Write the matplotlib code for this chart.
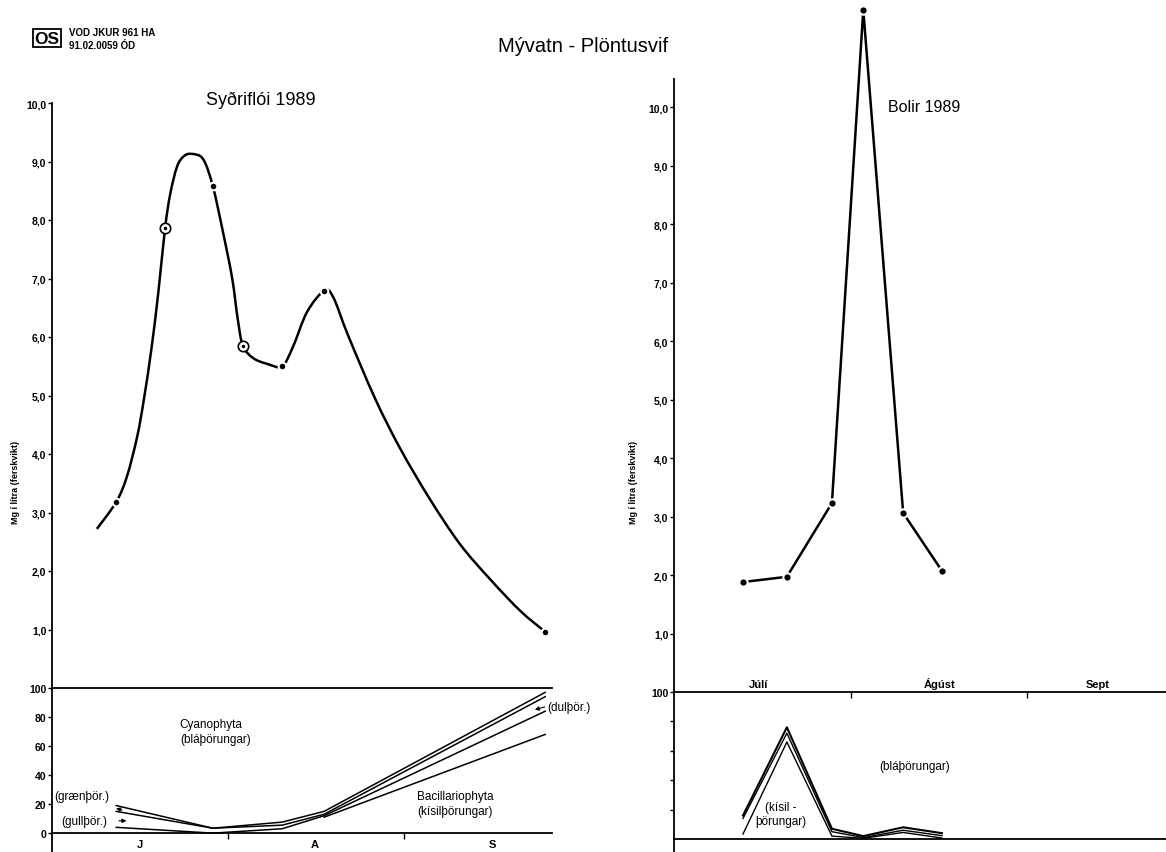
import numpy as np
import matplotlib
matplotlib.use("Agg")
import matplotlib.pyplot as plt
from matplotlib.path import Path
from matplotlib.patches import PathPatch

plt.rcParams['font.family'] = ['Liberation Sans', 'DejaVu Sans']

# ---------------- data (days since 1 July 1989) ----------------
# Syðriflói: traced smooth curve
syd_curve_days = [7.9, 11.3, 13.2, 15.0, 16.2, 17.5, 18.7, 19.9, 20.8, 22.0, 23.2, 24.6, 26.6,
                  28.3, 30.1, 31.7, 32.7, 33.6, 35.4, 37.9, 40.5, 42.4, 44.9, 47.9,
                  49.5, 52.1, 56.9, 61.3, 66.5, 71.8, 77.1, 82.4, 86.8]
syd_curve_vals = [2.72, 3.18, 3.62, 4.30, 4.95, 5.80, 6.75, 7.86, 8.44, 8.91, 9.09, 9.13, 9.04,
                  8.58, 7.79, 7.01, 6.30, 5.85, 5.64, 5.54, 5.50, 5.83, 6.43, 6.79,
                  6.68, 6.03, 4.94, 4.09, 3.23, 2.46, 1.86, 1.32, 0.96]
syd_filled_days = [11.3, 28.3, 40.5, 47.9, 86.8]
syd_filled_vals = [3.18, 8.58, 5.50, 6.79, 0.96]
syd_open_days = [19.9, 33.6]
syd_open_vals = [7.86, 5.85]

# Syðriflói composition (%), boundaries of stacked groups
syd_comp_days = [11.3, 28.3, 40.5, 47.9, 86.8]
syd_line1 = [19, 3.4, 7.6, 15, 97]
syd_line2 = [15, 3.4, 5.5, 13, 94]
syd_line3 = [4, 0, 3, 12, 84]
syd_line4 = [np.nan, np.nan, np.nan, 11, 68]

# Bolir
bol_days = [12.1, 19.8, 27.7, 33.2, 40.2, 47.0]
bol_vals = [1.88, 1.97, 3.23, 11.66, 3.06, 2.07]
bol_top = [16, 76, 7, 2, 8, 4]
bol_mid = [14, 72, 5, 1, 6, 2.3]
bol_bot = [3.4, 66, 2, 0.5, 4.5, 0.7]

left_month_labels = ['J', 'A', 'S']
left_month_pos = [15.5, 46.3, 77.6]
right_month_labels = ['Júlí', 'Ágúst', 'Sept']
right_month_pos = [14.9, 46.5, 74.4]
month_bounds = [31, 62]
upper_ticks = [1, 2, 3, 4, 5, 6, 7, 8, 9, 10]
upper_ticklabels = ['1,0', '2,0', '3,0', '4,0', '5,0', '6,0', '7,0', '8,0', '9,0', '10,0']
pct_ticks = [0, 20, 40, 60, 80, 100]

# ---------------- layout ----------------
W, H = 1166, 853
fig = plt.figure(figsize=(W / 100, H / 100), dpi=100)


def ax_px(left, top, right, bottom):
    return fig.add_axes([left / W, 1 - bottom / H, (right - left) / W, (bottom - top) / H])


def fx(x):
    return x / W


def fy(y):
    return 1 - y / H


def smooth_path(xs, ys):
    """Catmull-Rom curve through the traced points, drawn as cubic Bezier segments."""
    P = np.column_stack([xs, ys]).astype(float)
    P_ext = np.vstack([P[0], P, P[-1]])
    verts = [P[0]]
    codes = [Path.MOVETO]
    for i in range(1, len(P_ext) - 2):
        p0, p1, p2, p3 = P_ext[i - 1], P_ext[i], P_ext[i + 1], P_ext[i + 2]
        c1 = p1 + (p2 - p0) / 6.0
        c2 = p2 - (p3 - p1) / 6.0
        verts += [c1, c2, p2]
        codes += [Path.CURVE4] * 3
    return Path(verts, codes)


LW = 1.3
tickfont = dict(fontsize=7.5, fontweight='bold')
monthfont = dict(fontsize=8, fontweight='bold')
txt = 8.5


def clean(ax):
    for s in ax.spines.values():
        s.set_visible(False)
    ax.set_facecolor('none')


# ---- left upper ----
axL = ax_px(52, 104, 552, 689)
clean(axL)
axL.spines['left'].set_visible(True)
axL.spines['left'].set_linewidth(LW)
axL.set_xlim(0, 88)
axL.set_ylim(0, 10)
axL.set_xticks([])
axL.set_yticks(upper_ticks)
axL.set_yticklabels(upper_ticklabels, **tickfont)
axL.tick_params(axis='y', length=3, width=1, pad=1)
axL.add_patch(PathPatch(smooth_path(syd_curve_days, syd_curve_vals), fc='none',
                        ec='black', lw=1.8, zorder=2, clip_on=False))
axL.plot(syd_filled_days, syd_filled_vals, 'o', color='black', ms=5.5,
         mec='white', mew=1.5, clip_on=False, zorder=3)
axL.plot(syd_open_days, syd_open_vals, 'o', mfc='white', mec='black', ms=7.5,
         mew=1.2, clip_on=False, zorder=3)
axL.plot(syd_open_days, syd_open_vals, 'o', color='black', ms=1.5, clip_on=False, zorder=4)

# ---- left lower ----
axLL = ax_px(52, 689, 552, 853)
clean(axLL)
for s in ['left', 'top', 'bottom']:
    axLL.spines[s].set_visible(True)
    axLL.spines[s].set_linewidth(LW)
axLL.spines['bottom'].set_position(('data', 0))
axLL.set_xlim(0, 88)
axLL.set_ylim(-13, 100)
axLL.set_yticks(pct_ticks)
axLL.set_yticklabels([str(t) for t in pct_ticks], **tickfont)
axLL.tick_params(axis='y', length=3, width=1, pad=1)
axLL.set_xticks(month_bounds)
axLL.set_xticklabels([])
axLL.tick_params(axis='x', length=4, width=1, direction='out')
axLL.set_xticks(left_month_pos, minor=True)
axLL.set_xticklabels(left_month_labels, minor=True, **monthfont)
axLL.tick_params(axis='x', which='minor', length=0, pad=4)
for ln in [syd_line1, syd_line2, syd_line3, syd_line4]:
    axLL.plot(syd_comp_days, ln, color='black', lw=1.1)
axLL.text(22.5, 70, 'Cyanophyta\n(bláþörungar)', fontsize=txt, va='center', ha='left',
          linespacing=1.3)
axLL.text(64.2, 20.5, 'Bacillariophyta\n(kísilþörungar)', fontsize=txt, va='center',
          ha='left', linespacing=1.3)
axLL.text(0.4, 25.5, '(grænþör.)', fontsize=txt, va='center', ha='left')
axLL.text(1.6, 8.5, '(gullþör.)', fontsize=txt, va='center', ha='left')
axLL.annotate('', xy=(13.6, 8.5), xytext=(11.3, 8.5),
              arrowprops=dict(arrowstyle='-|>', lw=0.8, color='black', mutation_scale=6))
axLL.annotate('', xy=(10.8, 17.5), xytext=(12.8, 15.5),
              arrowprops=dict(arrowstyle='-|>', lw=0.8, color='black', mutation_scale=6))
axLL.text(87.2, 87, '(dulþör.)', fontsize=txt, va='center', ha='left', clip_on=False)
axLL.annotate('', xy=(84.5, 84.5), xytext=(87.2, 87.5),
              arrowprops=dict(arrowstyle='-|>', lw=0.8, color='black', mutation_scale=6),
              annotation_clip=False)

# ---- right upper ----
axR = ax_px(674, 80, 1166, 693)
clean(axR)
axR.spines['left'].set_visible(True)
axR.spines['left'].set_linewidth(LW)
axR.set_xlim(0, 86.3)
axR.set_ylim(0, 10.48)
axR.set_xticks([])
axR.set_yticks(upper_ticks)
axR.set_yticklabels(upper_ticklabels, **tickfont)
axR.tick_params(axis='y', length=3, width=1, pad=1)
axR.plot(bol_days, bol_vals, color='black', lw=1.8, clip_on=False, zorder=2)
axR.plot(bol_days, bol_vals, 'o', color='black', ms=6, mec='white', mew=1.5,
         clip_on=False, zorder=3)

# ---- right lower ----
axRL = ax_px(674, 693, 1166, 853)
clean(axRL)
for s in ['left', 'top', 'bottom']:
    axRL.spines[s].set_visible(True)
    axRL.spines[s].set_linewidth(LW)
axRL.spines['bottom'].set_position(('data', 0))
axRL.set_xlim(0, 86.3)
axRL.set_ylim(-8.8, 100)
axRL.set_yticks(pct_ticks[1:])
axRL.set_yticklabels(['', '', '', '', '100'], **tickfont)
axRL.tick_params(axis='y', length=3, width=1, pad=1)
axRL.xaxis.set_ticks_position('top')
axRL.set_xticks(month_bounds)
axRL.set_xticklabels([])
axRL.tick_params(axis='x', length=4, width=1, direction='in', top=True, bottom=False)
axRL.set_xticks(right_month_pos, minor=True)
axRL.set_xticklabels(right_month_labels, minor=True, **monthfont)
axRL.tick_params(axis='x', which='minor', length=0, pad=2, top=True, bottom=False,
                 labeltop=True, labelbottom=False)
axRL.plot(bol_days, bol_top, color='black', lw=1.5)
axRL.plot(bol_days, bol_mid, color='black', lw=1.0)
axRL.plot(bol_days, bol_bot, color='black', lw=1.0)
axRL.text(36.0, 50, '(bláþörungar)', fontsize=txt, va='center', ha='left')
axRL.text(18.8, 17, '(kísil -\nþörungar)', fontsize=txt, va='center', ha='center',
          linespacing=1.3)

# ---- titles / header ----
fig.text(fx(583), fy(47), 'Mývatn - Plöntusvif', fontsize=14.5, ha='center', va='center')
fig.text(fx(261), fy(100), 'Syðriflói 1989', fontsize=13, ha='center', va='center')
fig.text(fx(924), fy(107), 'Bolir 1989', fontsize=11.5, ha='center', va='center')
fig.text(fx(16), fy(482), 'Mg í lítra (ferskvikt)', fontsize=6.5, rotation=90,
         ha='center', va='center', fontweight='bold')
fig.text(fx(634), fy(482), 'Mg í lítra (ferskvikt)', fontsize=6.5, rotation=90,
         ha='center', va='center', fontweight='bold')
fig.text(fx(47), fy(39), 'OS', fontsize=12.5, ha='center', va='center', fontweight='bold',
         bbox=dict(boxstyle='square,pad=0.1', fc='white', ec='black', lw=1.3))
fig.text(fx(69), fy(33), 'VOD JKUR 961 HA', fontsize=7, ha='left', va='center',
         fontweight='bold')
fig.text(fx(69), fy(46), '91.02.0059 ÓD', fontsize=7, ha='left', va='center',
         fontweight='bold')

fig.savefig('out.png', dpi=100)
